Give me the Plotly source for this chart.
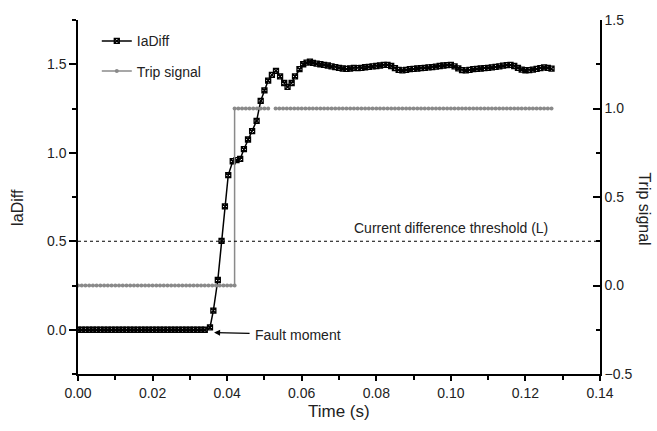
import plotly.graph_objects as go

# ---------------- data ----------------
# IaDiff: time in ms and value (per unit)
ia_t_ms = [0, 1, 2, 3, 4, 5, 6, 7, 8, 9, 10, 11, 12, 13, 14, 15, 16, 17, 18, 19,
           20, 21, 22, 23, 24, 25, 26, 27, 28, 29, 30, 31, 32, 33, 34,
           35.4, 36.3, 37.5, 38.5, 39.4, 40.3, 41.5, 42.5, 43.5, 44.5, 45.6, 46.7,
           47.9, 49.0, 50.0, 51.0, 52.0, 53.1, 54.2, 55.3, 56.2, 57.3, 58.2, 59.4,
           60.4, 61.3, 62.2,
           63, 64, 65, 66, 67, 68, 69, 70, 71, 72, 73, 74, 75, 76, 77, 78, 79, 80,
           81, 82, 83, 84, 85, 86, 87, 88, 89, 90, 91, 92, 93, 94, 95, 96, 97, 98,
           99, 100, 101, 102, 103, 104, 105, 106, 107, 108, 109, 110, 111, 112, 113,
           114, 115, 116, 117, 118, 119, 120, 121, 122, 123, 124, 125, 126, 127]
ia_val = [0.0, 0.0, 0.0, 0.0, 0.0, 0.0, 0.0, 0.0, 0.0, 0.0, 0.0, 0.0, 0.0, 0.0, 0.0,
          0.0, 0.0, 0.0, 0.0, 0.0, 0.0, 0.0, 0.0, 0.0, 0.0, 0.0, 0.0, 0.0, 0.0, 0.0,
          0.0, 0.0, 0.0, 0.0, 0.0,
          0.013, 0.108, 0.281, 0.502, 0.697, 0.874, 0.952, 0.958, 0.965, 1.020, 1.075,
          1.122, 1.180, 1.293, 1.352, 1.408, 1.440, 1.463, 1.432, 1.394, 1.372, 1.394,
          1.432, 1.472, 1.500, 1.509, 1.515,
          1.508, 1.503, 1.500, 1.497, 1.493, 1.488, 1.484, 1.480, 1.476, 1.474, 1.476,
          1.479, 1.478, 1.480, 1.483, 1.485, 1.488, 1.490, 1.493, 1.496, 1.497, 1.490,
          1.478, 1.468, 1.465, 1.468, 1.472, 1.474, 1.476, 1.478, 1.480, 1.482, 1.484,
          1.487, 1.490, 1.493, 1.495, 1.496, 1.488, 1.477, 1.467, 1.465, 1.468, 1.472,
          1.474, 1.476, 1.478, 1.480, 1.482, 1.485, 1.488, 1.492, 1.495, 1.496, 1.490,
          1.480, 1.470, 1.466, 1.467, 1.470, 1.474, 1.478, 1.482, 1.480, 1.475]

# Trip signal: time in ms and state (None = missing sample)
trip_t_ms = [0, 1, 2, 3, 4, 5, 6, 7, 8, 9, 10, 11, 12, 13, 14, 15, 16, 17, 18, 19,
             20, 21, 22, 23, 24, 25, 26, 27, 28, 29, 30, 31, 32, 33, 34, 35, 36, 37,
             38, 39, 40, 41, 42, 42, 43, 44, 45, 46, 47, 48, 49, 50, 51, 52,
             53, 54, 55, 56, 57, 58, 59, 60, 61, 62, 63, 64, 65, 66, 67, 68, 69, 70,
             71, 72, 73, 74, 75, 76, 77, 78, 79, 80, 81, 82, 83, 84, 85, 86, 87, 88,
             89, 90, 91, 92, 93, 94, 95, 96, 97, 98, 99, 100, 101, 102, 103, 104, 105,
             106, 107, 108, 109, 110, 111, 112, 113, 114, 115, 116, 117, 118, 119, 120,
             121, 122, 123, 124, 125, 126, 127]
trip_val = [0, 0, 0, 0, 0, 0, 0, 0, 0, 0, 0, 0, 0, 0, 0, 0, 0, 0, 0, 0,
            0, 0, 0, 0, 0, 0, 0, 0, 0, 0, 0, 0, 0, 0, 0, 0, 0, 0,
            0, 0, 0, 0, 0, 1, 1, 1, 1, 1, 1, 1, 1, 1, 1, None,
            1, 1, 1, 1, 1, 1, 1, 1, 1, 1, 1, 1, 1, 1, 1, 1, 1, 1,
            1, 1, 1, 1, 1, 1, 1, 1, 1, 1, 1, 1, 1, 1, 1, 1, 1, 1,
            1, 1, 1, 1, 1, 1, 1, 1, 1, 1, 1, 1, 1, 1, 1, 1, 1,
            1, 1, 1, 1, 1, 1, 1, 1, 1, 1, 1, 1, 1, 1, 1, 1,
            1, 1, 1, 1, 1, 1, 1]

threshold = 0.5
fault_time = 0.0365
fault_val = -0.016

x_ticks = [0.00, 0.02, 0.04, 0.06, 0.08, 0.10, 0.12, 0.14]
y_left_ticks = [0.0, 0.5, 1.0, 1.5]
y_right_ticks = [-0.5, 0.0, 0.5, 1.0, 1.5]

# ---------------- figure ----------------
FONT = "Liberation Sans, Arial, sans-serif"
TXT = "#222222"

ia_t = [v / 1000.0 for v in ia_t_ms]
trip_t = [v / 1000.0 for v in trip_t_ms]

fig = go.Figure()
fig.add_trace(go.Scatter(
    x=ia_t, y=ia_val, name="IaDiff", mode="lines+markers",
    line=dict(color="black", width=1.5),
    marker=dict(symbol="square-x-open", size=5, color="black",
                line=dict(color="black", width=1.3)),
    legendgroup="a", xaxis="x", yaxis="y"))
fig.add_trace(go.Scatter(
    x=trip_t, y=trip_val, name="Trip signal", mode="lines+markers",
    line=dict(color="#8a8a8a", width=1.5),
    marker=dict(symbol="circle", size=4, color="#8a8a8a"),
    connectgaps=False,
    legendgroup="b", xaxis="x", yaxis="y2"))

axis_common = dict(showgrid=False, zeroline=False, showline=True,
                   linecolor="black", linewidth=1.5,
                   tickcolor="black", tickwidth=1.5,
                   tickfont=dict(family=FONT, size=14, color=TXT))

fig.update_layout(
    width=657, height=431,
    margin=dict(l=78, r=57, t=13, b=57),
    paper_bgcolor="white", plot_bgcolor="white",
    font=dict(family=FONT, size=14, color=TXT),
    showlegend=True,
    legend=dict(x=0.036, y=0.985, xanchor="left", yanchor="top",
                bgcolor="rgba(0,0,0,0)", font=dict(family=FONT, size=14, color=TXT),
                traceorder="grouped", tracegroupgap=9),
    xaxis=dict(range=[0, 0.14], tickvals=x_ticks, tickformat=".2f",
               ticks="outside", ticklen=5,
               minor=dict(dtick=0.01, tick0=0, ticks="outside", ticklen=4,
                          tickwidth=1.5, tickcolor="black"),
               **axis_common),
    xaxis2=dict(range=[0, 0.14], overlaying="x", side="top", anchor="y",
                dtick=0.01, tick0=0, ticks="inside", ticklen=5,
                showticklabels=False, **axis_common),
    yaxis=dict(range=[-0.25, 1.75], tickvals=y_left_ticks, tickformat=".1f",
               ticks="outside", ticklen=7,
               minor=dict(dtick=0.25, tick0=0, ticks="outside", ticklen=4,
                          tickwidth=1.5, tickcolor="black"),
               **axis_common),
    yaxis2=dict(range=[-0.5, 1.5], overlaying="y", side="right", anchor="x",
                tickvals=y_right_ticks, tickformat=".1f",
                ticks="inside", ticklen=7,
                minor=dict(dtick=0.25, tick0=0, ticks="inside", ticklen=4,
                           tickwidth=1.5, tickcolor="black"),
                **axis_common),
)

# threshold line
fig.add_shape(type="line", xref="paper", x0=0, x1=1, yref="y",
              y0=threshold, y1=threshold,
              line=dict(color="black", width=1, dash="dot"))

# annotations
fig.add_annotation(x=0.1, y=threshold, xref="x", yref="y", yshift=13,
                   text="Current difference threshold (L)", showarrow=False,
                   font=dict(family=FONT, size=14, color=TXT))
fig.add_annotation(x=fault_time, y=fault_val, xref="x", yref="y",
                   text="Fault moment", showarrow=True, arrowhead=2,
                   arrowsize=1, arrowwidth=1.2, arrowcolor="black",
                   ax=84, ay=2, standoff=0, startstandoff=4,
                   font=dict(family=FONT, size=14, color=TXT))
# axis titles
fig.add_annotation(xref="paper", yref="paper", x=-0.115, y=0.47,
                   text="IaDiff", textangle=-90, showarrow=False,
                   xanchor="center", yanchor="middle",
                   font=dict(family=FONT, size=16, color=TXT))
fig.add_annotation(xref="paper", yref="paper", x=0.5, y=-0.105,
                   text="Time (s)", showarrow=False,
                   xanchor="center", yanchor="middle",
                   font=dict(family=FONT, size=17, color=TXT))
fig.add_annotation(xref="paper", yref="paper", x=1.066, y=0.465,
                   text="Trip signal", textangle=90, showarrow=False,
                   xanchor="left", yanchor="middle",
                   font=dict(family=FONT, size=16, color=TXT))

fig.write_html("out.html")
